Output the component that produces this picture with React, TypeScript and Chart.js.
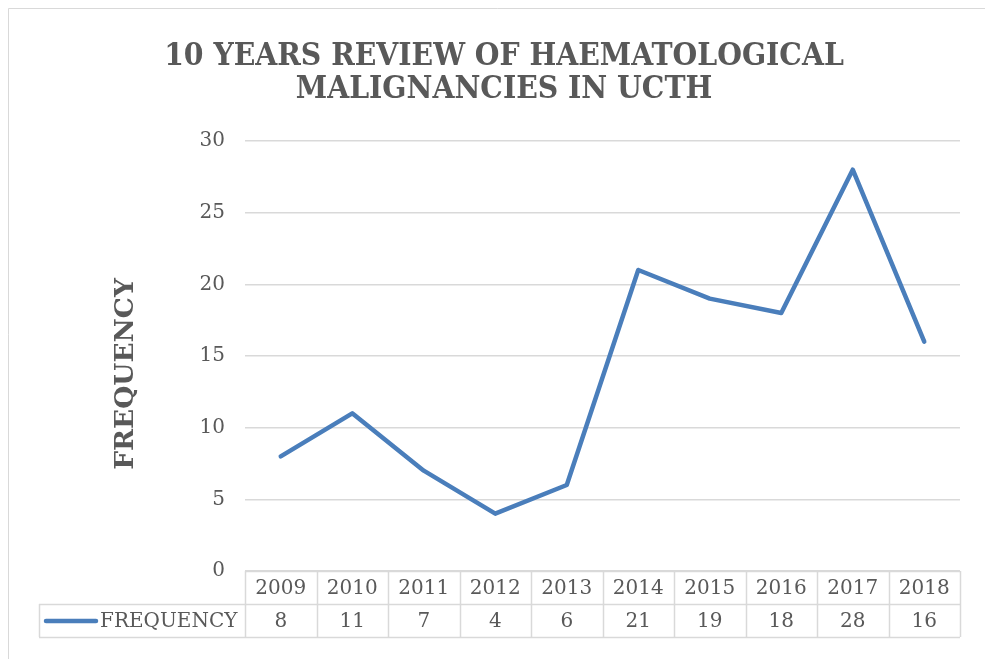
import React, { useEffect, useRef } from "react";
import { Chart, registerables } from "chart.js";

Chart.register(...registerables);

const years = ["2009", "2010", "2011", "2012", "2013", "2014", "2015", "2016", "2017", "2018"];
const frequency = [8, 11, 7, 4, 6, 21, 19, 18, 28, 16];
const seriesName = "FREQUENCY";
const titleLines = ["10 YEARS REVIEW OF HAEMATOLOGICAL", "MALIGNANCIES IN UCTH"];
const yAxisTitle = "FREQUENCY";

const LINE_COLOR = "#4a7ebb";
const TEXT_COLOR = "#595959";
const GRID_COLOR = "#d9d9d9";
const FONT = "'DejaVu Serif', serif";

const decorPlugin = {
  id: "decor",
  beforeDraw(chart: any) {
    const ctx = chart.ctx;
    ctx.save();
    ctx.fillStyle = "#ffffff";
    ctx.fillRect(0, 0, chart.width, chart.height);
    // outer frame (top and left visible, rest off-window)
    ctx.strokeStyle = "#d9d9d9";
    ctx.lineWidth = 1;
    ctx.beginPath();
    ctx.moveTo(8.5, chart.height + 5);
    ctx.lineTo(8.5, 8.5);
    ctx.lineTo(chart.width + 5, 8.5);
    ctx.stroke();
    ctx.restore();
  },
  afterDraw(chart: any) {
    const ctx = chart.ctx;
    const area = chart.chartArea;
    const n = years.length;
    const w = (area.right - area.left) / n;
    const rowH = 33;
    const top = area.bottom;
    const mid = top + rowH;
    const bot = mid + rowH;
    const legendLeft = 39;

    ctx.save();
    // title
    ctx.fillStyle = TEXT_COLOR;
    ctx.textAlign = "center";
    ctx.textBaseline = "alphabetic";
    ctx.font = `bold 31.5px 'DejaVu Serif Condensed', 'DejaVu Serif', serif`;
    ctx.fillText(titleLines[0], 504, 65);
    ctx.fillText(titleLines[1], 504, 98);

    // y axis title
    ctx.save();
    ctx.translate(126, (area.top + area.bottom) / 2 + 18);
    ctx.rotate(-Math.PI / 2);
    ctx.font = `bold 26.5px ${FONT}`;
    ctx.textBaseline = "middle";
    ctx.fillText(yAxisTitle, 0, 0);
    ctx.restore();

    // table grid
    ctx.strokeStyle = GRID_COLOR;
    ctx.lineWidth = 1.5;
    ctx.beginPath();
    ctx.moveTo(area.left, top + 0.5);
    ctx.lineTo(area.right, top + 0.5);
    ctx.moveTo(legendLeft, mid + 0.5);
    ctx.lineTo(area.right, mid + 0.5);
    ctx.moveTo(legendLeft, bot + 0.5);
    ctx.lineTo(area.right, bot + 0.5);
    for (let i = 0; i <= n; i++) {
      const x = Math.round(area.left + i * w) + 0.5;
      ctx.moveTo(x, top);
      ctx.lineTo(x, bot);
    }
    ctx.moveTo(legendLeft + 0.5, mid);
    ctx.lineTo(legendLeft + 0.5, bot);
    ctx.stroke();

    // table text
    ctx.fillStyle = TEXT_COLOR;
    ctx.font = `20px ${FONT}`;
    ctx.textAlign = "center";
    ctx.textBaseline = "middle";
    const xs = chart.scales.x;
    for (let i = 0; i < n; i++) {
      const cx = xs.getPixelForValue(i);
      ctx.fillText(years[i], cx, top + rowH / 2 + 1);
      ctx.fillText(String(frequency[i]), cx, mid + rowH / 2 + 1);
    }
    // legend key
    ctx.strokeStyle = LINE_COLOR;
    ctx.lineWidth = 4.5;
    ctx.lineCap = "round";
    ctx.beginPath();
    ctx.moveTo(46, mid + rowH / 2 + 0.5);
    ctx.lineTo(96, mid + rowH / 2 + 0.5);
    ctx.stroke();
    ctx.textAlign = "left";
    ctx.fillText(seriesName, 100, mid + rowH / 2 + 1);
    ctx.restore();
  },
};

export default function App() {
  const ref = useRef<HTMLCanvasElement | null>(null);
  useEffect(() => {
    if (!ref.current) return;
    const chart = new Chart(ref.current, {
      type: "line",
      data: {
        labels: years,
        datasets: [
          {
            label: seriesName,
            data: frequency,
            borderColor: LINE_COLOR,
            backgroundColor: LINE_COLOR,
            borderWidth: 4.5,
            pointRadius: 0,
            pointHoverRadius: 0,
            borderJoinStyle: "round",
            borderCapStyle: "round",
            tension: 0,
          },
        ],
      },
      options: {
        responsive: false,
        animation: false,
        layout: { padding: { top: 141, right: 25, bottom: 88, left: 0 } },
        plugins: {
          legend: { display: false },
          title: { display: false },
          tooltip: { enabled: false },
        },
        scales: {
          x: {
            display: false,
            offset: true,
          },
          y: {
            min: 0,
            max: 30,
            ticks: {
              stepSize: 5,
              padding: 20,
              color: TEXT_COLOR,
              font: { family: FONT, size: 20 },
            },
            grid: { color: GRID_COLOR, lineWidth: 1.5, drawTicks: false },
            border: { display: false },
            afterFit(scale: any) {
              scale.width = 245;
            },
          },
        },
      },
      plugins: [decorPlugin],
    });
    return () => chart.destroy();
  }, []);
  return (
    <div style={{ position: "fixed", left: 0, top: 0, width: 985, height: 659 }}>
      <canvas ref={ref} width={985} height={659} style={{ display: "block" }} />
    </div>
  );
}
